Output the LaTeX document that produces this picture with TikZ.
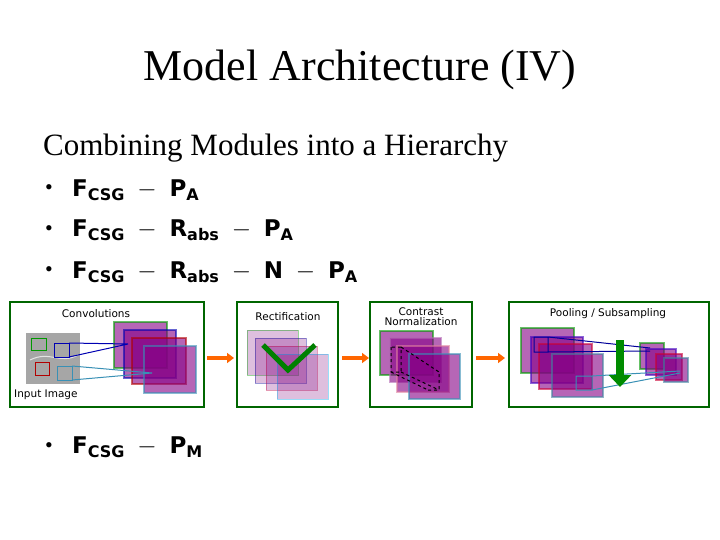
\documentclass[tikz,border=0pt]{standalone}
\usepackage{fontspec}
\setmainfont{Liberation Serif}
\newfontfamily\labfont{DejaVu Sans}
\newfontfamily\fmfont{DejaVu Sans}
\usetikzlibrary{arrows.meta}
\newcommand{\bs}[1]{{\fmfont\bfseries #1}}
\newcommand{\sub}[1]{\raisebox{-4pt}{\fmfont\bfseries\fontsize{16}{17}\selectfont #1}}
\newcommand{\mn}{\;\;$-$\;\;}
\begin{document}
\begin{tikzpicture}[x=1pt,y=-1pt,
 panel/.style={draw=green!40!black,line width=2pt},
 plab/.style={font=\labfont\fontsize{10.5}{11}\selectfont,inner sep=0,align=center},
 fmap/.style={fill=violet!70!magenta!80!black,fill opacity=0.6,draw=#1,line width=1.4pt,draw opacity=0.6},
 lmap/.style={fill=violet!60!magenta!70!black,fill opacity=0.25,draw=#1,line width=1pt,draw opacity=0.4},
 oarr/.style={draw=orange!80!red,line width=4pt,-{Triangle[length=7pt,width=10pt]}},
 bul/.style={anchor=west,inner sep=0,font=\fontsize{23}{26}\selectfont},
 dot/.style={inner sep=0,font=\fontsize{22}{26}\selectfont}]
\useasboundingbox (0,0) rectangle (720,540);
\node (title) at (360,70) {\fontsize{44}{48}\selectfont Model Architecture (IV)};
\node[anchor=west,inner sep=0] (sub) at (43,148) {\fontsize{31}{34}\selectfont Combining Modules into a Hierarchy};
\node[dot] (d1) at (49,190) {\textbullet};
\node[dot] (d2) at (49,231) {\textbullet};
\node[dot] (d3) at (49,272) {\textbullet};
\node[dot] (d4) at (49,448) {\textbullet};
\node[bul] (b1) at (72,190) {\bs{F}\sub{CSG}\mn\bs{P}\sub{A}};
\node[bul] (b2) at (72,230) {\bs{F}\sub{CSG}\mn\bs{R}\sub{abs}\mn\bs{P}\sub{A}};
\node[bul] (b3) at (72,272) {\bs{F}\sub{CSG}\mn\bs{R}\sub{abs}\mn\bs{N}\mn\bs{P}\sub{A}};
\node[bul] (b4) at (72,447) {\bs{F}\sub{CSG}\mn\bs{P}\sub{M}};
% panel 1
\draw[panel] (10,302) rectangle (204,407);
\node[plab] (l1) at (96,314) {Convolutions};
\fill[gray!70] (26,333) rectangle (80,384);
\draw[white!80!gray,line width=1pt] (30,360) .. controls (50,350) and (60,365) .. (78,355);
\node[plab,anchor=west] (l1b) at (14,395) {Input Image};
\draw[fmap=green!60!black] (114,322) rectangle (167,368);
\draw[fmap=blue!70!black] (124,330) rectangle (176,378);
\draw[fmap=red!70!black] (132,338) rectangle (186,384);
\draw[fmap=cyan!70!black] (144,346) rectangle (196,393);
\draw[green!60!black,line width=1pt] (31,338) rectangle (46,350);
\draw[blue!70!black,line width=1pt] (54,343) rectangle (69,357);
\draw[blue!70!black,line width=1pt] (69,343) -- (128,344) (69,357) -- (128,344);
\draw[red!70!black,line width=1pt] (35,362) rectangle (49,375);
\draw[cyan!70!black,line width=1pt] (57,366) rectangle (72,380);
\draw[cyan!70!black,line width=1pt] (72,366) -- (152,373) (72,380) -- (152,373);
\draw[oarr] (207,358) -- (234,358);
% panel 2
\draw[panel] (237,302) rectangle (338,407);
\node[plab] (l2) at (288,317) {Rectification};
\draw[lmap=green!60!black] (247,330) rectangle (298,375);
\draw[lmap=blue!60!black] (255,338) rectangle (306,383);
\draw[lmap=purple] (266,346) rectangle (317,390);
\draw[lmap=cyan] (277,354) rectangle (328,399);
\draw[green!50!black,line width=5pt] (263,345) -- (288,370) -- (315,345);
\draw[oarr] (342,358) -- (369,358);
% panel 3
\draw[panel] (370,302) rectangle (472,407);
\node[plab] (l3) at (421,317) {Contrast\\[-1pt]Normalization};
\draw[fmap=green!60!black] (380,331) rectangle (433,375);
\draw[fmap=violet!60] (390,338) rectangle (441,382);
\draw[fmap=purple!50] (397,346) rectangle (449,392);
\draw[fmap=cyan!70!black] (409,354) rectangle (460,399);
\draw[dashed,line width=1pt] (391,347) rectangle (401,372) (401,347) -- (439,372) (391,372) -- (428,390) (401,372) -- (439,390) (428,390) -- (439,390) -- (439,372);
\draw[oarr] (476,358) -- (505,358);
% panel 4
\draw[panel] (509,302) rectangle (709,407);
\node[plab] (l4) at (608,314) {Pooling / Subsampling};
\draw[fmap=green!60!black] (521,328) rectangle (574,373);
\draw[fmap=blue!50!violet] (531,337) rectangle (583,383);
\draw[fmap=red!60!violet] (539,344) rectangle (592,389);
\draw[fmap=cyan!60!black] (552,354) rectangle (603,397);
\draw[fmap=green!60!black] (640,343) rectangle (664,369);
\draw[fmap=blue!50!violet] (646,349) rectangle (676,375);
\draw[fmap=red!60!violet] (656,354) rectangle (682,380);
\draw[fmap=cyan!60!black] (664,358) rectangle (688,382);
\draw[blue!60!black,line width=1pt] (534,337) rectangle (548,352) (548,337) -- (650,348) (548,352) -- (650,351);
\draw[cyan!70!black,line width=1pt] (576,376) rectangle (592,390) (592,376) -- (680,371) (592,390) -- (680,373);
\draw[green!55!black,line width=8pt,-{Triangle[length=12pt,width=22pt]}] (620,340) -- (620,387);
\end{tikzpicture}
\end{document}
